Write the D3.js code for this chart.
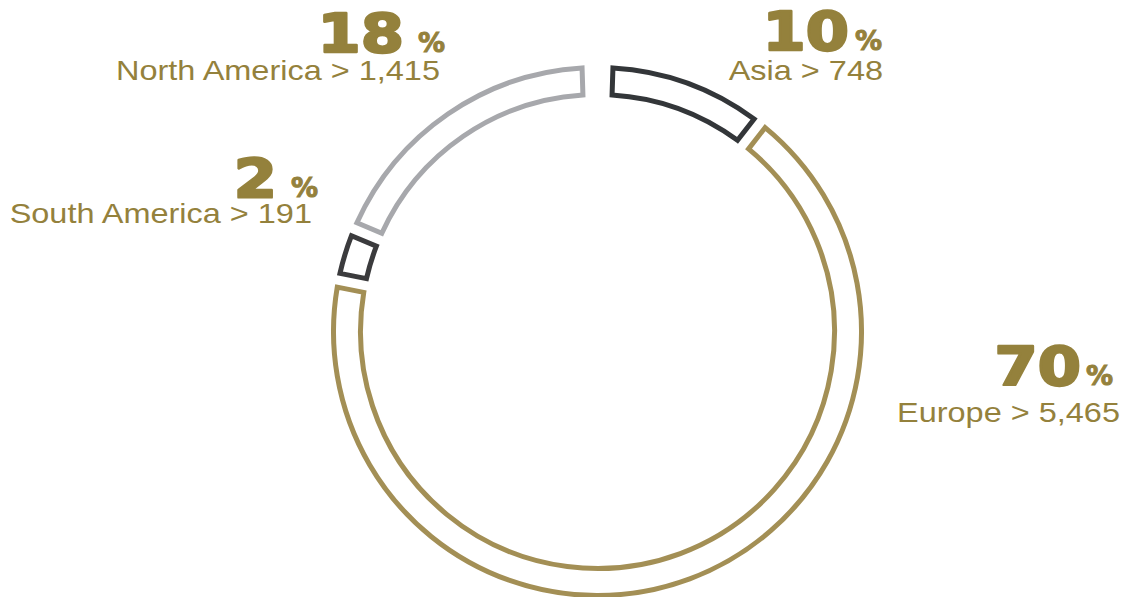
<!DOCTYPE html>
<html>
<head>
<meta charset="utf-8">
<script src="https://cdn.jsdelivr.net/npm/d3@7"></script>
<style>
  html, body { margin: 0; padding: 0; background: #ffffff; }
  svg { display: block; }
  .num { font-family: "DejaVu Sans", sans-serif; font-weight: bold; }
  .pct { font-family: "DejaVu Sans", sans-serif; font-weight: bold; }
  .lbl { font-family: "Liberation Sans", Arial, sans-serif; }
</style>
</head>
<body>
<svg id="chart" width="1140" height="597"></svg>
<script>
// data, clockwise from the top
const regions = ["Asia", "Europe", "South America", "North America"]
const counts = [748, 5465, 191, 1415]
const shares = [10, 70, 2, 18]
const strokeColors = ["#333639", "#a38f55", "#3b3b3d", "#a7a8ac"]

// where each label block sits (right edge of the "%", baselines)
const labelLayout = [
    {right: 882, numY: 50, textY: 80, textRight: 883, gap: 4},
    {right: 1113, numY: 385, textY: 422, textRight: 1120, gap: 3},
    {right: 318, numY: 197, textY: 223, textRight: 312, gap: 12},
    {right: 445, numY: 52, textY: 80, textRight: 440, gap: 12}
]

const cx = 597.5, cy = 331.5
const outerR = 264, innerR = 237
const textColor = "#94813c"

const rows = regions.map((r, i) => ({region: r, count: counts[i], share: shares[i], i: i}))

const pie = d3.pie()
    .sort(null)
    .value(d => d.count)
    .startAngle(0.032)
    .endAngle(2 * Math.PI - 0.032)
    .padAngle(0.056)

const arc = d3.arc()
    .innerRadius(innerR)
    .outerRadius(outerR)
    .padRadius(250)

const svg = d3.select("#chart")

const ring = svg.append("g")
    .attr("transform", `translate(${cx},${cy})`)

ring.selectAll(".slice")
    .data(pie(rows))
    .join("path")
    .attr("class", "slice")
    .attr("d", arc)
    .attr("fill", "none")
    .attr("stroke", d => strokeColors[d.data.i])
    .attr("stroke-width", 5)
    .attr("stroke-linejoin", "miter")

// labels
const labels = svg.selectAll(".label")
    .data(rows)
    .join("g")
    .attr("class", "label")

labels.append("text")
    .attr("class", "pct")
    .attr("x", d => labelLayout[d.i].right)
    .attr("y", d => labelLayout[d.i].numY)
    .attr("text-anchor", "end")
    .attr("font-size", 27)
    .attr("fill", textColor)
    .attr("stroke", textColor)
    .attr("stroke-width", 1)
    .text("%")

labels.append("text")
    .attr("class", "num")
    .attr("transform", d => {
        const L = labelLayout[d.i]
        return `translate(${L.right - 29 - L.gap},${L.numY}) scale(1.15,1)`
    })
    .attr("text-anchor", "end")
    .attr("font-size", 54)
    .attr("fill", textColor)
    .attr("stroke", textColor)
    .attr("stroke-width", 2.4)
    .attr("stroke-linejoin", "round")
    .text(d => d.share)

labels.append("text")
    .attr("class", "lbl")
    .attr("transform", d => {
        const L = labelLayout[d.i]
        return `translate(${L.textRight},${L.textY}) scale(1.16,1)`
    })
    .attr("text-anchor", "end")
    .attr("font-size", 28)
    .attr("fill", textColor)
    .text(d => `${d.region} > ${d3.format(",")(d.count)}`)
</script>
</body>
</html>
